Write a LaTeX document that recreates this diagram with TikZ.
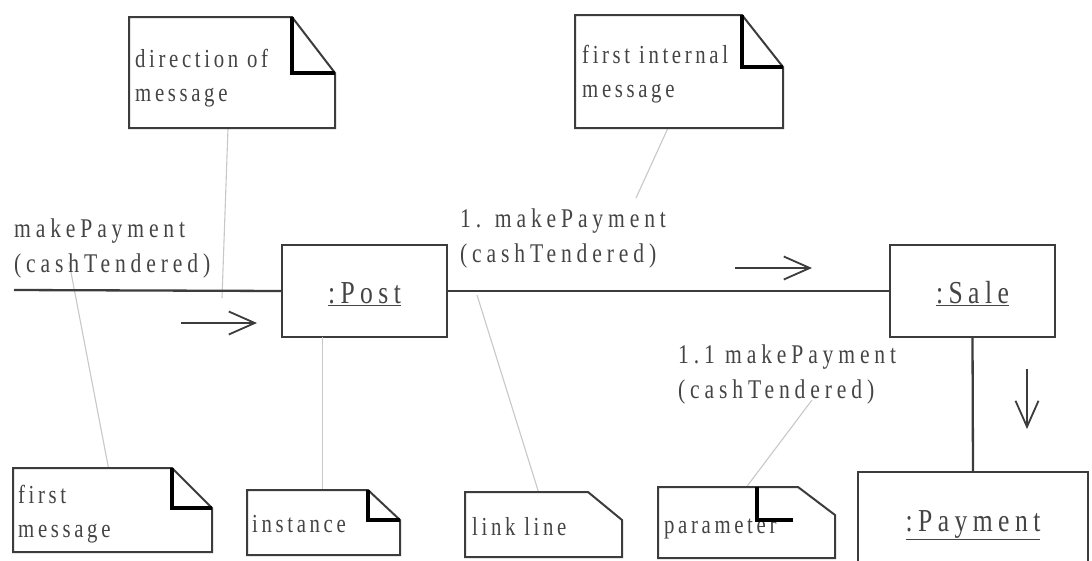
\documentclass[tikz,border=0pt]{standalone}
\usepackage{fontspec}
\setmainfont{Liberation Serif}
\newfontfamily\msgfont[LetterSpace=18,FakeStretch=0.8]{Liberation Serif}
\newfontfamily\notefont[LetterSpace=14,FakeStretch=0.8]{Liberation Serif}
\newfontfamily\objfont[LetterSpace=17,FakeStretch=0.8]{Liberation Serif}
\usetikzlibrary{arrows.meta}
\definecolor{ink}{HTML}{3C3C3C}
\definecolor{txt}{HTML}{444444}
\definecolor{guide}{HTML}{C8C8C8}
\newcommand\noteshape[3]{%
  \draw[noteframe] (#1.north west) -- ([xshift=-#2pt]#1.north east) -- ([yshift=-#3pt]#1.north east) -- (#1.south east) -- (#1.south west) -- cycle;}
\newcommand\notefold[3]{%
  \draw[foldline] ([xshift=-#2pt]#1.north east) -- ([xshift=-#2pt,yshift=-#3pt]#1.north east) -- ([yshift=-#3pt]#1.north east);}
\tikzset{
  obj/.style={draw=ink, line width=2.3pt, fill=white, inner sep=0pt, outer sep=0pt, anchor=north west,
    text=txt, font=\objfont\fontsize{32}{36}\selectfont, text height=24pt, text depth=0pt},
  link/.style={draw=ink, line width=2.3pt},
  msgarrow/.style={draw=ink, line width=1.8pt, -{Straight Barb[length=26pt,width=23pt]}},
  msg/.style={anchor=north west, align=left, inner sep=0pt, text=txt, font=\msgfont\fontsize{27}{35}\selectfont},
  notetext/.style={anchor=north west, align=left, inner sep=0pt, text=txt, font=\notefont\fontsize{26}{34}\selectfont},
  notetextb/.style={anchor=base west, inner sep=0pt, text=txt, font=\notefont\fontsize{26}{34}\selectfont},
  notebox/.style={anchor=north west, inner sep=0pt, outer sep=0pt, fill=white},
  noteframe/.style={draw=ink, line width=2pt, line join=miter},
  foldline/.style={draw=black, line width=3.5pt, line join=miter},
  guideline/.style={draw=guide, line width=1.1pt}
}
\begin{document}
\begin{tikzpicture}[x=1pt,y=-1pt]
\useasboundingbox (0,0) rectangle (1092,560);
\fill[white] (0,0) rectangle (1092,560);
\clip (0,0) rectangle (1092,560);

% free ends
\coordinate (lin) at (14,290);
\coordinate (g1e) at (222,298);
\coordinate (g2e) at (636,198);
\coordinate (g3e) at (69,262);
\coordinate (g5e) at (477,295);
\coordinate (g6e) at (812,400);
\coordinate (a1s) at (181,323);
\coordinate (a1e) at (257,323);
\coordinate (a2s) at (735,268);
\coordinate (a2e) at (812,268);
\coordinate (a3s) at (1027,369);
\coordinate (a3e) at (1027,429);

% objects
\node[obj, minimum width=165pt, minimum height=92pt] (post) at (282,245) {\underline{:Post}};
\node[obj, minimum width=165pt, minimum height=92pt] (sale) at (890,245) {\underline{:Sale}};
\node[obj, minimum width=230pt, minimum height=94pt] (pay) at (858,472) {\underline{:Payment}};

% note frames
\node[notebox, minimum width=206pt, minimum height=111pt] (n1) at (129,17) {};
\node[notebox, minimum width=208pt, minimum height=113pt] (n2) at (575,15) {};
\node[notebox, minimum width=199pt, minimum height=84pt] (n3) at (13,468) {};
\node[notebox, minimum width=153pt, minimum height=65pt] (n4) at (247,490) {};
\node[notebox, minimum width=157pt, minimum height=65pt] (n5) at (465,492) {};
\node[notebox, minimum width=177pt, minimum height=71pt] (n6) at (658,487) {};

% guide lines
\draw[guideline] ([xshift=-4pt]n1.south) -- (g1e);
\draw[guideline] ([xshift=-11pt]n2.south) -- (g2e);
\draw[guideline] ([xshift=-4pt]n3.north) -- (g3e);
\draw[guideline] ([xshift=-1pt]n4.north) -- ([xshift=-1pt]n4.north |- post.south);
\draw[guideline] ([xshift=-5pt]n5.north) -- (g5e);
\draw[guideline] (n6.north) -- (g6e);

% links
\draw[link] (lin) -- (post.west);
\draw[link] (post.east) -- (sale.west);
\draw[link] (sale.south) -- (pay.north);

% message arrows
\draw[msgarrow] (a1s) -- (a1e);
\draw[msgarrow] (a2s) -- (a2e);
\draw[msgarrow] (a3s) -- (a3e);

% message labels
\node[msg] (m0) at (14,219) {makePayment\\(cashTendered)};
\node[msg] (m1) at (460,209) {1. makePayment\\(cashTendered)};
\node[msg] (m2) at (678,345) {1.1 makePayment\\(cashTendered)};

% notes
\noteshape{n1}{43}{56}
\node[notetext] (t1) at (135,49) {direction of\\message};
\notefold{n1}{43}{56}

\noteshape{n2}{41}{52}
\node[notetext] (t2) at (582,45) {first internal\\message};
\notefold{n2}{41}{52}

\noteshape{n3}{40}{40}
\node[notetext] (t3) at (18,485) {first\\message};
\notefold{n3}{40}{40}

\noteshape{n4}{32}{30}
\node[notetextb] (t4) at (252,532) {instance};
\notefold{n4}{32}{30}

\noteshape{n5}{34}{28}
\node[notetextb] (t5) at (472,535) {link line};

\noteshape{n6}{37}{28}
\node[notetextb] (t6) at (664,533) {parameter};
\draw[foldline] ([xshift=-78pt]n6.north east) -- ([xshift=-78pt,yshift=-33pt]n6.north east) -- ([xshift=-42pt,yshift=-33pt]n6.north east);
\end{tikzpicture}
\end{document}
